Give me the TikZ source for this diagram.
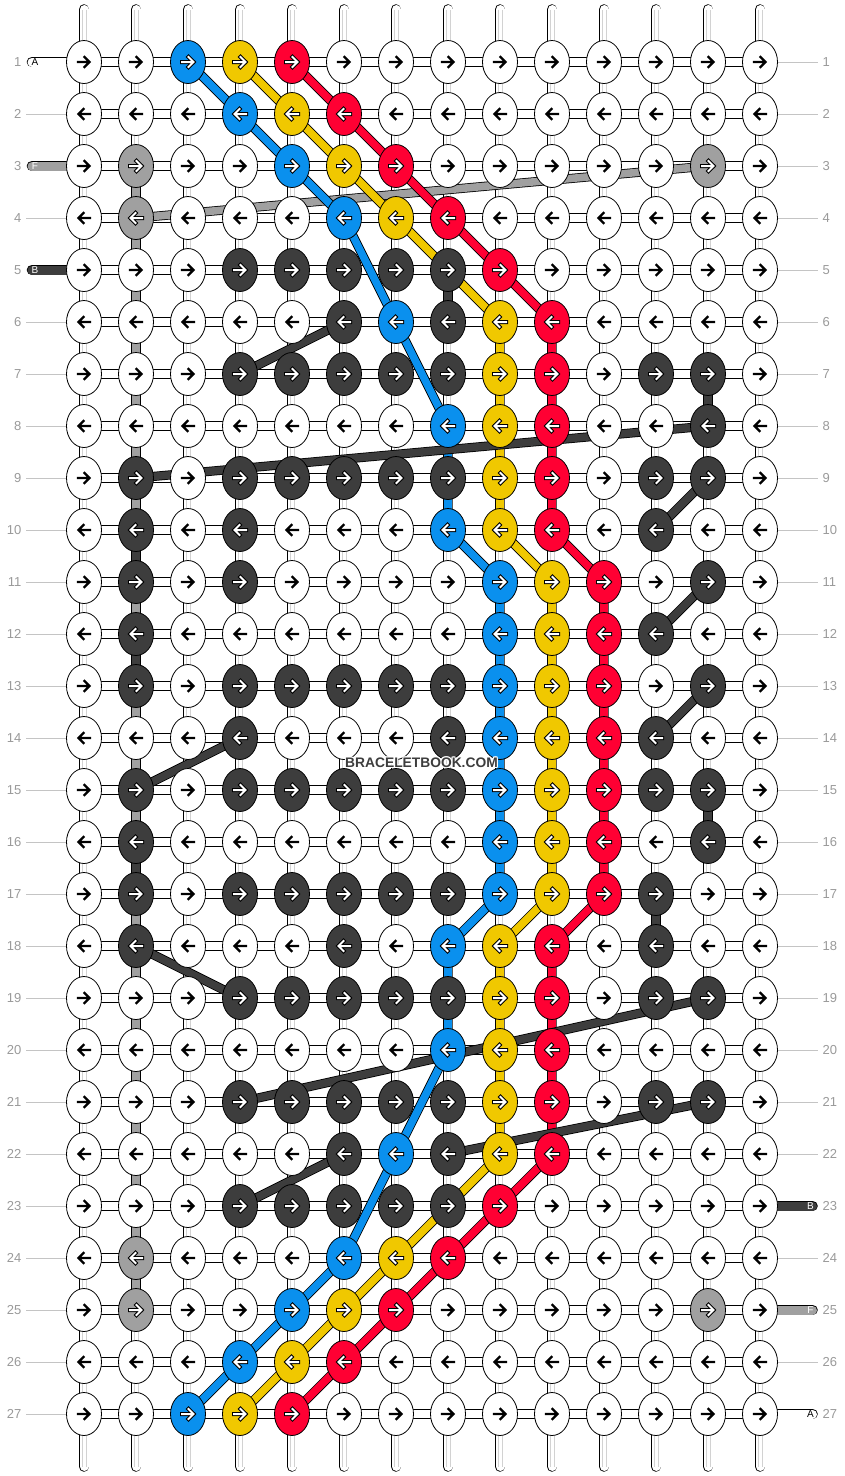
\documentclass[tikz,border=0pt]{standalone}
\usepackage{fontspec}
\setmainfont{Liberation Sans}
\usetikzlibrary{shapes.geometric}
\definecolor{kW}{HTML}{FFFFFF}
\definecolor{kU}{HTML}{0A90EE}
\definecolor{kY}{HTML}{F0C800}
\definecolor{kR}{HTML}{FF0033}
\definecolor{kD}{HTML}{3D3D3D}
\definecolor{kG}{HTML}{A0A0A0}
\definecolor{numgray}{HTML}{9A9A9A}
\definecolor{thingray}{HTML}{C4C4C4}
\definecolor{tubeinner}{HTML}{D2D2D2}
\pgfdeclarelayer{back}
\pgfdeclarelayer{mid}
\pgfsetlayers{back,mid,main}
\def\kw{W}
\begin{document}
\begin{tikzpicture}[x=1pt,y=-1pt,
  knot/.style={ellipse, draw=black, line width=0.8pt, minimum width=35pt, minimum height=43pt, inner sep=0pt},
  band/.style={draw=black, line width=0.8pt, double distance=7.6pt, line join=round},
  tubeout/.style={draw=black, line width=10.6pt, line cap=round},
  tubein/.style={draw=white, line width=9pt, line cap=round},
  numlab/.style={text=numgray, inner sep=0pt, font=\fontsize{13}{13}\selectfont},
  strlab/.style={inner sep=0pt, font=\fontsize{10}{10}\selectfont},
  thin/.style={draw=thingray, line width=1pt}
]
\useasboundingbox (0,0) rectangle (844,1476);
% knots
\foreach \rowlist [count=\r] in {%
{W,W,U,Y,R,W,W,W,W,W,W,W,W,W},%
{W,W,W,U,Y,R,W,W,W,W,W,W,W,W},%
{W,G,W,W,U,Y,R,W,W,W,W,W,G,W},%
{W,G,W,W,W,U,Y,R,W,W,W,W,W,W},%
{W,W,W,D,D,D,D,D,R,W,W,W,W,W},%
{W,W,W,W,W,D,U,D,Y,R,W,W,W,W},%
{W,W,W,D,D,D,D,D,Y,R,W,D,D,W},%
{W,W,W,W,W,W,W,U,Y,R,W,W,D,W},%
{W,D,W,D,D,D,D,D,Y,R,W,D,D,W},%
{W,D,W,D,W,W,W,U,Y,R,W,D,W,W},%
{W,D,W,D,W,W,W,W,U,Y,R,W,D,W},%
{W,D,W,W,W,W,W,W,U,Y,R,D,W,W},%
{W,D,W,D,D,D,D,D,U,Y,R,W,D,W},%
{W,W,W,D,W,W,W,D,U,Y,R,D,W,W},%
{W,D,W,D,D,D,D,D,U,Y,R,D,D,W},%
{W,D,W,W,W,W,W,W,U,Y,R,W,D,W},%
{W,D,W,D,D,D,D,D,U,Y,R,D,W,W},%
{W,D,W,W,W,D,W,U,Y,R,W,D,W,W},%
{W,W,W,D,D,D,D,D,Y,R,W,D,D,W},%
{W,W,W,W,W,W,W,U,Y,R,W,W,W,W},%
{W,W,W,D,D,D,D,D,Y,R,W,D,D,W},%
{W,W,W,W,W,D,U,D,Y,R,W,W,W,W},%
{W,W,W,D,D,D,D,D,R,W,W,W,W,W},%
{W,G,W,W,W,U,Y,R,W,W,W,W,W,W},%
{W,G,W,W,U,Y,R,W,W,W,W,W,G,W},%
{W,W,W,U,Y,R,W,W,W,W,W,W,W,W},%
{W,W,U,Y,R,W,W,W,W,W,W,W,W,W}%
}{
  \pgfmathsetmacro\dir{2*mod(\r,2)-1}
  \foreach \c [count=\i] in \rowlist {
    \node[knot, fill=k\c] (k-\i-\r) at ({84+52*(\i-1)},{62+52*(\r-1)}) {};
    \edef\cc{\c}
    \ifx\cc\kw
      \draw[black, line width=2.4pt, line cap=rect, shift={(k-\i-\r.center)}, xscale=\dir] (-6,0) -- (5,0) (0.5,-5) -- (5.5,0) -- (0.5,5);
    \else
      \draw[black, line width=4pt, line cap=rect, shift={(k-\i-\r.center)}, xscale=\dir] (-6,0) -- (5,0) (0.5,-5) -- (5.5,0) -- (0.5,5);
      \draw[white, line width=2pt, line cap=rect, shift={(k-\i-\r.center)}, xscale=\dir] (-6,0) -- (5,0) (0.5,-5) -- (5.5,0) -- (0.5,5);
    \fi
  }
}
% back layer: tubes, bars, edge strings
\begin{pgfonlayer}{back}
  \fill[white] (0,0) rectangle (844,1476);
  \foreach \i in {1,...,14} {
    \path (k-\i-1.center) ++(0,-52.5) coordinate (top-\i);
    \path (k-\i-27.center) ++(0,52.5) coordinate (bot-\i);
    \draw[tubeout] (top-\i) -- (bot-\i);
    \draw[tubein] (top-\i) -- (bot-\i);
    \draw[tubeinner, line width=0.6pt] ([xshift=-2pt]top-\i) -- ([xshift=-2pt]bot-\i);
    \draw[tubeinner, line width=0.6pt] ([xshift=2pt]top-\i) -- ([xshift=2pt]bot-\i);
  }
  \foreach \r in {1,...,27} {
    \draw[black, line width=10pt] (k-1-\r.center) -- (k-14-\r.center);
    \draw[white, line width=8.4pt] (k-1-\r.center) -- (k-14-\r.center);
  }
  % left strings
  \foreach \r/\col/\lab/\lc in {1/kW/A/black, 3/kG/F/white, 5/kD/B/white} {
    \coordinate (ls-\r) at (32,{62+52*(\r-1)});
    \draw[tubeout] (ls-\r) -- (k-1-\r.center);
    \draw[draw=\col, line width=9pt, line cap=round] (ls-\r) -- (k-1-\r.center);
    \node[strlab, text=\lc] (lsl-\r) at (35,{62+52*(\r-1)}) {\lab};
  }
  \foreach \r/\col/\lab/\lc in {23/kD/B/white, 25/kG/F/white, 27/kW/A/black} {
    \coordinate (rs-\r) at (812.5,{62+52*(\r-1)});
    \draw[tubeout] (k-14-\r.center) -- (rs-\r);
    \draw[draw=\col, line width=9pt, line cap=round] (k-14-\r.center) -- (rs-\r);
    \node[strlab, text=\lc] (rsl-\r) at (810.5,{62+52*(\r-1)}) {\lab};
  }
  \foreach \r in {2,4,6,7,...,27} {
    \coordinate (lt-\r) at (26,{62+52*(\r-1)});
    \draw[thin] (lt-\r) -- (k-1-\r.west);
  }
  \foreach \r in {1,2,...,22,24,26} {
    \coordinate (rt-\r) at (818,{62+52*(\r-1)});
    \draw[thin] (k-14-\r.east) -- (rt-\r);
  }
\end{pgfonlayer}
% mid layer: coloured thread paths
\begin{pgfonlayer}{mid}
  \draw[band, double=kG] (k-2-3.center) -- (k-2-25.center);
  \draw[band, double=kG] (k-2-4.center) -- (k-13-3.center);
  \draw[band, double=kU] (k-3-1.center) -- (k-4-2.center) -- (k-5-3.center) -- (k-6-4.center) -- (k-7-6.center) -- (k-8-8.center) -- (k-8-10.center) -- (k-9-11.center) -- (k-9-17.center) -- (k-8-18.center) -- (k-8-20.center) -- (k-7-22.center) -- (k-6-24.center) -- (k-5-25.center) -- (k-4-26.center) -- (k-3-27.center);
  \draw[band, double=kY] (k-4-1.center) -- (k-5-2.center) -- (k-6-3.center) -- (k-7-4.center) -- (k-9-6.center) -- (k-9-10.center) -- (k-10-11.center) -- (k-10-17.center) -- (k-9-18.center) -- (k-9-22.center) -- (k-7-24.center) -- (k-6-25.center) -- (k-5-26.center) -- (k-4-27.center);
  \draw[band, double=kR] (k-5-1.center) -- (k-6-2.center) -- (k-7-3.center) -- (k-8-4.center) -- (k-9-5.center) -- (k-10-6.center) -- (k-10-10.center) -- (k-11-11.center) -- (k-11-17.center) -- (k-10-18.center) -- (k-10-22.center) -- (k-9-23.center) -- (k-8-24.center) -- (k-7-25.center) -- (k-6-26.center) -- (k-5-27.center);
  \foreach \a/\b in {8-5/8-6, 6-6/4-7, 13-7/13-8, 13-8/2-9, 13-9/12-10, 2-10/2-11, 13-11/12-12, 2-12/2-13, 13-13/12-14, 4-14/2-15, 13-15/13-16, 2-16/2-17, 12-17/12-18, 2-18/4-19, 13-19/4-21, 13-21/8-22, 6-22/4-23} {
    \draw[band, double=kD] (k-\a.center) -- (k-\b.center);
  }
\end{pgfonlayer}
% row numbers
\foreach \r in {1,...,27} {
  \node[numlab, anchor=east] (nl-\r) at (21.5,{62+52*(\r-1)}) {\r};
  \node[numlab, anchor=west] (nr-\r) at (822.5,{62+52*(\r-1)}) {\r};
}
% watermark
\foreach \dx/\dy [count=\n] in {-1.2/0, 1.2/0, 0/-1.2, 0/1.2, -0.9/-0.9, 0.9/-0.9, -0.9/0.9, 0.9/0.9} {
  \node[text=white, inner sep=0pt, font=\fontsize{13.8}{14}\selectfont\bfseries] (wmh-\n) at (421.5+\dx,763+\dy) {BRACELETBOOK.COM};
}
\node[text=kD, inner sep=0pt, font=\fontsize{13.8}{14}\selectfont\bfseries] (wm) at (421.5,763) {BRACELETBOOK.COM};
\end{tikzpicture}
\end{document}
